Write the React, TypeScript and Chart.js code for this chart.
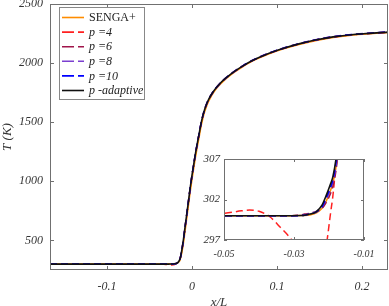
import React, { useEffect, useRef } from "react";
import { Chart, registerables } from "chart.js";
Chart.register(...registerables);

const xPos = [-0.167, -0.1, -0.05, -0.045, -0.0427, -0.04, -0.037, -0.034, -0.0307, -0.028, -0.027, -0.0255, -0.0245, -0.0236, -0.022, -0.0207, -0.0195, -0.0189, -0.018, -0.017, -0.016, -0.014, -0.012, -0.01, -0.008, -0.006, -0.004, -0.002, 0, 0.002, 0.004, 0.006, 0.009, 0.011, 0.013, 0.015, 0.017, 0.019, 0.022, 0.025, 0.029, 0.033, 0.038, 0.0427, 0.05, 0.06, 0.07, 0.08, 0.09, 0.105, 0.127, 0.145, 0.166, 0.19, 0.2306];

const tSenga = [300, 300, 300, 300, 300, 300, 300, 300, 300, 300.01, 300.03, 300.1, 300.2, 300.35, 300.9, 301.9, 303.2, 304, 306, 309.5, 315, 335, 395, 480, 585, 695, 805, 915, 1015, 1108, 1198, 1280, 1398, 1475, 1538, 1590, 1632, 1668, 1710, 1746, 1786, 1819, 1854, 1883, 1923, 1971, 2012, 2046, 2076, 2114, 2159, 2189, 2216, 2237, 2258];
const tP4 = [300, 300, 300.3, 300.6, 300.7, 300.55, 299.9, 298.6, 297, 294.8, 294, 292.8, 292.3, 292.2, 293.3, 296.5, 300.5, 302.4, 306.5, 311, 318, 345, 414, 508, 618, 728, 838, 948, 1048, 1138, 1228, 1308, 1424, 1499, 1559, 1609, 1649, 1683, 1723, 1757, 1795, 1827, 1861, 1889, 1929, 1976, 2017, 2051, 2081, 2119, 2164, 2194, 2221, 2241, 2261];
const tP6 = [300, 300, 300, 300, 300, 300, 300, 300, 300, 300.1, 300.2, 300.3, 300.4, 300.5, 300.9, 301.7, 302.8, 303.6, 305.6, 309.5, 316, 343, 412, 507, 617, 727, 838, 948, 1048, 1139, 1229, 1309, 1424, 1500, 1560, 1610, 1650, 1684, 1724, 1758, 1796, 1828, 1862, 1890, 1930, 1977, 2018, 2052, 2082, 2120, 2165, 2195, 2222, 2242, 2262];
const tP8 = [300, 300, 300, 300, 300, 300, 300, 300, 300, 300.05, 300.1, 300.25, 300.4, 300.55, 301.1, 302.1, 303.4, 304.2, 306.2, 310, 317, 344, 414, 509, 619, 729, 839, 949, 1049, 1140, 1230, 1310, 1427, 1502, 1562, 1612, 1652, 1686, 1726, 1760, 1798, 1830, 1864, 1892, 1932, 1979, 2020, 2054, 2084, 2122, 2167, 2197, 2224, 2244, 2264];
const tP10 = [300, 300, 300, 300, 300, 300, 300, 300, 300, 300.02, 300.05, 300.2, 300.3, 300.45, 301.1, 302.3, 303.6, 304.4, 306.6, 310.5, 317.5, 344, 414, 509, 619, 729, 839, 949, 1049, 1140, 1230, 1310, 1425, 1500, 1560, 1610, 1650, 1684, 1724, 1758, 1796, 1828, 1862, 1890, 1930, 1977, 2018, 2052, 2082, 2120, 2165, 2195, 2222, 2242, 2262];
const tAdaptive = [300, 300, 300, 300, 300, 300, 300, 300, 300, 300.02, 300.05, 300.2, 300.3, 300.5, 301.3, 302.6, 304, 304.8, 307, 311, 318, 345, 415, 510, 620, 730, 840, 950, 1050, 1140, 1230, 1310, 1425, 1500, 1560, 1610, 1650, 1684, 1724, 1758, 1796, 1828, 1862, 1890, 1930, 1977, 2018, 2052, 2082, 2120, 2165, 2195, 2222, 2242, 2262];

const seriesNames = ["SENGA+", "p =4", "p =6", "p =8", "p =10", "p -adaptive"];
const seriesColors = ["#FF8C00", "#FF2020", "#A0154A", "#7B3FD0", "#0000FF", "#111111"];
const seriesDashed = [false, true, true, true, true, false];

const mainXTicks = [-0.1, 0, 0.1, 0.2];
const mainYTicks = [500, 1000, 1500, 2000, 2500];
const insetXTicks = [-0.05, -0.03, -0.01];
const insetYTicks = [297, 302, 307];

const SERIF = "'Liberation Serif', 'Times New Roman', serif";
const FRAME = "#707070";
const LABEL = "#333333";

function buildDatasets() {
  const all = [tSenga, tP4, tP6, tP8, tP10, tAdaptive];
  const orders = [6, 5, 4, 3, 2, 0];
  return all.map((arr, k) => ({
    label: seriesNames[k],
    data: xPos.map((x, i) => ({ x, y: arr[i] })),
    borderColor: seriesColors[k],
    borderWidth: k === 5 ? 1.6 : 1.5,
    borderDash: seriesDashed[k] ? [7, 4] : [],
    pointRadius: 0,
    cubicInterpolationMode: "monotone" as const,
    fill: false,
    clip: 0,
    order: orders[k],
  }));
}

const framePlugin = {
  id: "frame",
  beforeDatasetsDraw(chart: any, _a: any, opts: any) {
    if (!opts.bg) return;
    const { ctx, chartArea: ca } = chart;
    ctx.save();
    ctx.fillStyle = opts.bg;
    ctx.fillRect(ca.left, ca.top, ca.right - ca.left, ca.bottom - ca.top);
    ctx.restore();
  },
  afterDatasetsDraw(chart: any, _a: any, opts: any) {
    const { ctx, chartArea: ca, scales } = chart;
    const L = opts.tick || 4;
    ctx.save();
    ctx.strokeStyle = FRAME;
    ctx.lineWidth = 1;
    ctx.beginPath();
    for (const v of opts.xt) {
      const p = Math.round(scales.x.getPixelForValue(v)) + 0.5;
      ctx.moveTo(p, ca.bottom);
      ctx.lineTo(p, ca.bottom - L);
      ctx.moveTo(p, ca.top);
      ctx.lineTo(p, ca.top + L);
    }
    for (const v of opts.yt) {
      const p = Math.round(scales.y.getPixelForValue(v)) + 0.5;
      ctx.moveTo(ca.left, p);
      ctx.lineTo(ca.left + L, p);
      ctx.moveTo(ca.right, p);
      ctx.lineTo(ca.right - L, p);
    }
    ctx.stroke();
    ctx.strokeRect(Math.round(ca.left) + 0.5, Math.round(ca.top) + 0.5, Math.round(ca.right - ca.left) - 1, Math.round(ca.bottom - ca.top) - 1);
    ctx.restore();
  },
};

const legendPlugin = {
  id: "boxLegend",
  afterDraw(chart: any, _a: any, opts: any) {
    if (!opts.show) return;
    const ctx = chart.ctx;
    ctx.save();
    const bx = 59, by = 7, bw = 85, bh = 92;
    ctx.fillStyle = "#ffffff";
    ctx.fillRect(bx, by, bw, bh);
    ctx.strokeStyle = "#888888";
    ctx.lineWidth = 1;
    ctx.strokeRect(bx + 0.5, by + 0.5, bw, bh);
    for (let k = 0; k < seriesNames.length; k++) {
      const y = 17.5 + k * 14.6;
      ctx.strokeStyle = seriesColors[k];
      ctx.lineWidth = 1.6;
      ctx.setLineDash(seriesDashed[k] ? [12, 4] : []);
      ctx.beginPath();
      ctx.moveTo(62, y);
      ctx.lineTo(84, y);
      ctx.stroke();
      ctx.setLineDash([]);
      ctx.fillStyle = "#222222";
      ctx.textBaseline = "middle";
      ctx.textAlign = "left";
      ctx.font = (k === 0 ? "" : "italic ") + "12px " + SERIF;
      ctx.fillText(seriesNames[k], 89, y + 0.5);
    }
    ctx.restore();
  },
};

function axisCfg(min: number, max: number, ticks: number[], size: number, pad: number, fitKey: "height" | "width", fitVal: number, title?: any) {
  return {
    type: "linear" as const,
    min,
    max,
    grid: { display: false, drawTicks: false },
    border: { display: false },
    afterBuildTicks: (s: any) => {
      s.ticks = ticks.map((v) => ({ value: v }));
    },
    afterFit: (s: any) => {
      s[fitKey] = fitVal;
      s.paddingLeft = 0;
      s.paddingRight = 0;
      s.paddingTop = 0;
      s.paddingBottom = 0;
    },
    ticks: {
      font: { family: SERIF, style: "italic" as const, size },
      color: LABEL,
      padding: pad,
      maxRotation: 0,
      autoSkip: false,
      callback: (v: any) => String(v),
    },
    title: title || { display: false },
  };
}

export default function App() {
  const mainRef = useRef<HTMLCanvasElement>(null);
  const insetRef = useRef<HTMLCanvasElement>(null);

  useEffect(() => {
    const main = new Chart(mainRef.current!, {
      type: "line",
      data: { datasets: buildDatasets() as any },
      plugins: [framePlugin, legendPlugin],
      options: {
        animation: false,
        responsive: false,
        maintainAspectRatio: false,
        layout: { padding: { top: 4, right: 1, left: 0, bottom: 0 } },
        plugins: {
          legend: { display: false },
          tooltip: { enabled: false },
          frame: { xt: mainXTicks, yt: mainYTicks, tick: 4 },
          boxLegend: { show: true },
        } as any,
        scales: {
          x: axisCfg(-0.167, 0.2306, mainXTicks, 12, 10, "height", 36, {
            display: true,
            text: "x/L",
            color: LABEL,
            font: { family: SERIF, style: "italic", size: 13 },
            padding: { top: 0, bottom: -4 },
          }),
          y: axisCfg(250, 2500, mainYTicks, 12, 7, "width", 50, {
            display: true,
            text: "T (K)",
            color: LABEL,
            font: { family: SERIF, style: "italic", size: 13 },
            padding: { top: 0, bottom: 0 },
          }),
        } as any,
      },
    });
    const inset = new Chart(insetRef.current!, {
      type: "line",
      data: { datasets: buildDatasets() as any },
      plugins: [framePlugin],
      options: {
        animation: false,
        responsive: false,
        maintainAspectRatio: false,
        layout: { padding: { top: 9, right: 20, left: 0, bottom: 0 } },
        plugins: {
          legend: { display: false },
          tooltip: { enabled: false },
          frame: { xt: insetXTicks, yt: insetYTicks, tick: 3, bg: "#ffffff" },
        } as any,
        scales: {
          x: axisCfg(-0.05, -0.01, insetXTicks, 10, 8, "height", 25),
          y: axisCfg(297, 307, insetYTicks, 11, 4, "width", 29),
        } as any,
      },
    });
    return () => {
      main.destroy();
      inset.destroy();
    };
  }, []);

  return (
    <div style={{ position: "absolute", left: 0, top: 0, width: 389, height: 306, background: "#ffffff" }}>
      <canvas ref={mainRef} width={389} height={306} style={{ position: "absolute", left: 0, top: 0, width: 389, height: 306 }} />
      <canvas ref={insetRef} width={189} height={115} style={{ position: "absolute", left: 195, top: 150, width: 189, height: 115 }} />
    </div>
  );
}
